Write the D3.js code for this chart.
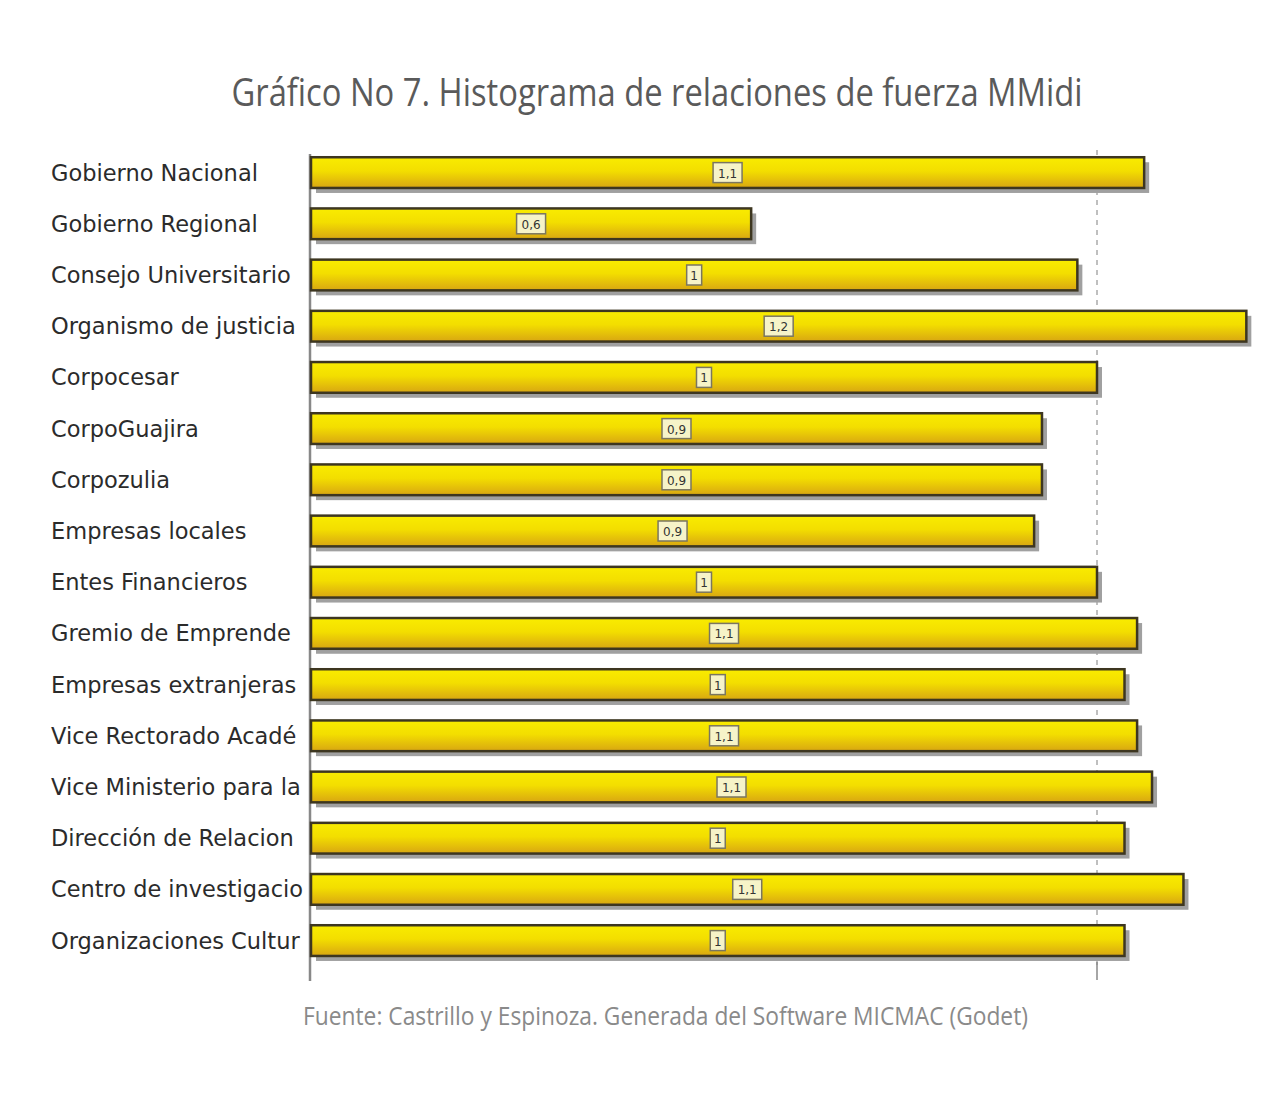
<!DOCTYPE html>
<html>
<head>
<meta charset="utf-8">
<script src="https://cdn.jsdelivr.net/npm/d3@7"></script>
<style>
  body { margin: 0; background: #fff; }
</style>
</head>
<body>
<div id="chart"></div>
<script>
var actors = ["Gobierno Nacional", "Gobierno Regional", "Consejo Universitario", "Organismo de justicia",
    "Corpocesar", "CorpoGuajira", "Corpozulia", "Empresas locales", "Entes Financieros",
    "Gremio de Emprende", "Empresas extranjeras", "Vice Rectorado Acadé", "Vice Ministerio para la",
    "Dirección de Relacion", "Centro de investigacio", "Organizaciones Cultur"];
var forces = [1.06, 0.56, 0.975, 1.19, 1.00, 0.93, 0.93, 0.92, 1.00, 1.051, 1.035, 1.051, 1.07, 1.035, 1.11, 1.035];
var gridValues = [1];

var width = 1269, height = 1111;
var plotLeft = 311, plotTop = 147, rowH = 51.2;

var svg = d3.select("#chart").append("svg")
    .attr("width", width)
    .attr("height", height);

var defs = svg.append("defs");
var grad = defs.append("linearGradient")
    .attr("id", "gold")
    .attr("x1", 0).attr("y1", 0).attr("x2", 0).attr("y2", 1);
grad.append("stop").attr("offset", "0%").attr("stop-color", "#f9ec00");
grad.append("stop").attr("offset", "45%").attr("stop-color", "#f3de00");
grad.append("stop").attr("offset", "100%").attr("stop-color", "#d8a612");

var x = d3.scaleLinear()
    .domain([0, 1])
    .range([plotLeft, 1097]);

var y = d3.scaleBand()
    .domain(actors)
    .range([plotTop, plotTop + rowH * actors.length])
    .paddingInner(0.4)
    .paddingOuter(0.2);

// title
svg.append("text")
    .attr("x", 657).attr("y", 106)
    .attr("text-anchor", "middle")
    .attr("textLength", 851)
    .attr("lengthAdjust", "spacingAndGlyphs")
    .style("font-family", "Open Sans")
    .style("font-size", "38px")
    .style("fill", "#5a5a5a")
    .text("Gráfico No 7. Histograma de relaciones de fuerza MMidi");

// dashed grid line at 1
svg.selectAll(".grid").data(gridValues).enter().append("line")
    .attr("x1", d => x(d)).attr("x2", d => x(d))
    .attr("y1", 150).attr("y2", 965)
    .attr("stroke", "#aaa")
    .attr("stroke-width", 1.5)
    .attr("stroke-dasharray", "5,5");
svg.selectAll(".gtick").data(gridValues).enter().append("line")
    .attr("x1", d => x(d)).attr("x2", d => x(d))
    .attr("y1", 962).attr("y2", 980)
    .attr("stroke", "#888")
    .attr("stroke-width", 1.5);

// axis line
svg.append("line")
    .attr("x1", plotLeft - 1).attr("x2", plotLeft - 1)
    .attr("y1", 154).attr("y2", 981)
    .attr("stroke", "#888")
    .attr("stroke-width", 2.5);

var rows = svg.selectAll(".row").data(actors).enter().append("g")
    .attr("class", "row");

// shadow
rows.append("rect")
    .attr("x", plotLeft + 5)
    .attr("y", d => y(d) + 5)
    .attr("width", (d, i) => x(forces[i]) - plotLeft)
    .attr("height", y.bandwidth())
    .attr("fill", "#a0a0a0");

rows.append("rect")
    .attr("x", plotLeft)
    .attr("y", d => y(d))
    .attr("width", (d, i) => x(forces[i]) - plotLeft)
    .attr("height", y.bandwidth())
    .attr("fill", "url(#gold)")
    .attr("stroke", "#3d3620")
    .attr("stroke-width", 2.5);

// value labels
var fmt = function(v) {
    return (+v.toFixed(1)).toString().replace(".", ",");
};
rows.each(function(d, i) {
    var g = d3.select(this);
    var cx = (plotLeft + x(forces[i])) / 2;
    var cy = y(d) + y.bandwidth() / 2;
    var t = fmt(forces[i]);
    var w = t.length * 7 + 8;
    g.append("rect")
        .attr("x", cx - w / 2).attr("y", cy - 10)
        .attr("width", w).attr("height", 20)
        .attr("fill", "#f6f3c8")
        .attr("stroke", "#7a7660")
        .attr("stroke-width", 1.5);
    g.append("text")
        .attr("x", cx).attr("y", cy + 5)
        .attr("text-anchor", "middle")
        .style("font-family", "DejaVu Sans")
        .style("font-size", "12px")
        .style("fill", "#333")
        .text(t);
});

// category labels
rows.append("text")
    .attr("x", 51)
    .attr("y", d => y(d) + y.bandwidth() / 2 + 8)
    .style("font-family", "DejaVu Sans")
    .style("font-size", "22.5px")
    .style("fill", "#2b2b2b")
    .text(d => d)
    .each(function() {
        var len = this.getComputedTextLength();
        if (len > 252) d3.select(this).attr("textLength", 252).attr("lengthAdjust", "spacingAndGlyphs");
    });

// source
svg.append("text")
    .attr("x", 303).attr("y", 1025)
    .attr("textLength", 725)
    .attr("lengthAdjust", "spacingAndGlyphs")
    .style("font-family", "Open Sans")
    .style("font-size", "25px")
    .style("fill", "#8a8a8a")
    .text("Fuente: Castrillo y Espinoza. Generada del Software MICMAC (Godet)");
</script>
</body>
</html>
